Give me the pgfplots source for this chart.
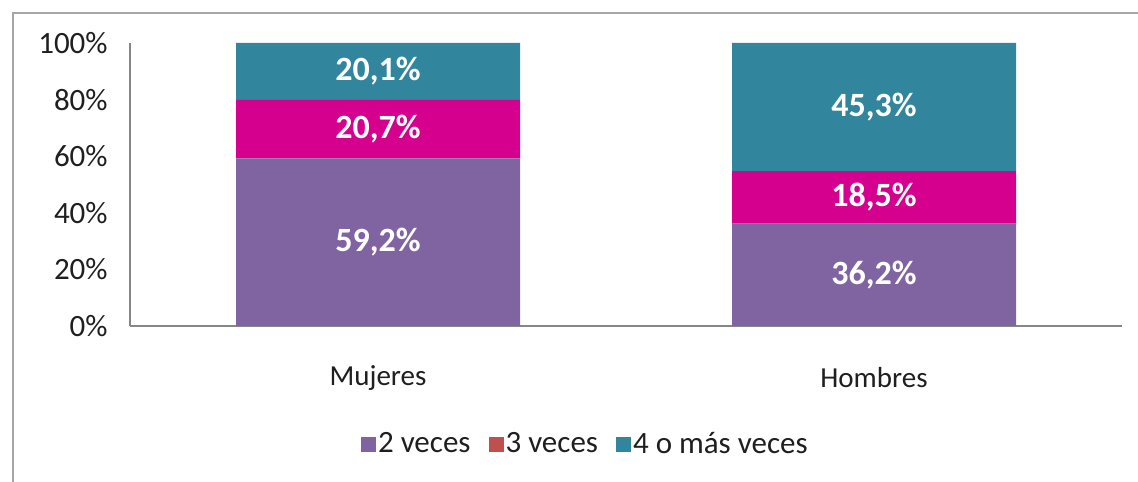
\documentclass[border=0pt]{standalone}
\usepackage{fontspec}
\setmainfont{Carlito}
\usepackage{pgfplots}
\pgfplotsset{compat=1.18}

\definecolor{cpurple}{HTML}{8064A2}
\definecolor{cmagenta}{HTML}{D6008F}
\definecolor{cred}{HTML}{C0504D}
\definecolor{cteal}{HTML}{31859C}
\definecolor{axisgray}{HTML}{868686}
\definecolor{framegray}{HTML}{A6A6A6}
\definecolor{txt}{HTML}{1F1F1F}

\newcommand{\ytickfont}{\fontsize{15.5pt}{17pt}\selectfont}
\newcommand{\xtickfont}{\fontsize{14.5pt}{16pt}\selectfont}
\newcommand{\legfont}{\fontsize{15.5pt}{17pt}\selectfont}
\newcommand{\barfont}{\fontsize{17pt}{19pt}\selectfont\bfseries}

\begin{document}
\begin{tikzpicture}
% page = 1138 x 481 px at 0.5pt per px
\useasboundingbox (0,0) rectangle (569pt,240.5pt);
\draw[framegray, line width=1pt] (6.5pt,-2pt) -- (6.5pt,234pt) -- (572pt,234pt);

\begin{axis}[
    at={(65pt,77.5pt)}, anchor=south west,
    scale only axis, width=496pt, height=141.5pt,
    ybar stacked, bar width=142pt,
    xmin=-0.5, xmax=1.5, ymin=0, ymax=100,
    axis x line*=bottom, axis y line*=left,
    axis line style={axisgray, line width=0.75pt},
    major tick length=0pt,
    xtick={0,1}, xticklabels={Mujeres,Hombres},
    ytick={0,20,40,60,80,100},
    yticklabel={\pgfmathprintnumber{\tick}\%},
    /pgf/number format/assume math mode=true,
    tick label style={text=txt},
    yticklabel style={font=\ytickfont, anchor=east, inner sep=0pt, xshift=-11pt},
    xticklabel style={font=\xtickfont, anchor=center, yshift=-26pt},
    legend style={
        at={(0.459,-0.417)}, anchor=center,
        draw=none, fill=none, font=\legfont, text=txt,
        legend columns=3,
        /tikz/every even column/.append style={column sep=8pt},
        nodes={inner sep=1pt},
    },
    legend cell align=left,
]
\addplot[fill=cpurple, draw=none,
  legend image code/.code={\fill[cpurple] (0pt,-3.75pt) rectangle (7.5pt,3.75pt);}]
  coordinates {(0,59.2) (1,36.2)};
\addplot[fill=cmagenta, draw=none,
  legend image code/.code={\fill[cred] (0pt,-3.75pt) rectangle (7.5pt,3.75pt);}]
  coordinates {(0,20.7) (1,18.5)};
\addplot[fill=cteal, draw=none,
  legend image code/.code={\fill[cteal] (0pt,-3.75pt) rectangle (7.5pt,3.75pt);}]
  coordinates {(0,20.1) (1,45.3)};
\legend{2 veces, 3 veces, 4 o más veces}
\end{axis}

% segment labels, centred in each segment
\begin{axis}[
    at={(65pt,77.5pt)}, anchor=south west,
    scale only axis, width=496pt, height=141.5pt,
    xmin=-0.5, xmax=1.5, ymin=0, ymax=100,
    hide axis,
    nodes near coords,
    point meta=explicit symbolic,
    nodes near coords style={anchor=center, text=white, font=\barfont, inner sep=0pt},
]
\addplot[draw=none, mark=none] coordinates {
  (0,29.6) [{59,2\%}]
  (0,69.55) [{20,7\%}]
  (0,89.95) [{20,1\%}]
  (1,18.1) [{36,2\%}]
  (1,45.45) [{18,5\%}]
  (1,77.35) [{45,3\%}]
};
\end{axis}
\end{tikzpicture}
\end{document}
